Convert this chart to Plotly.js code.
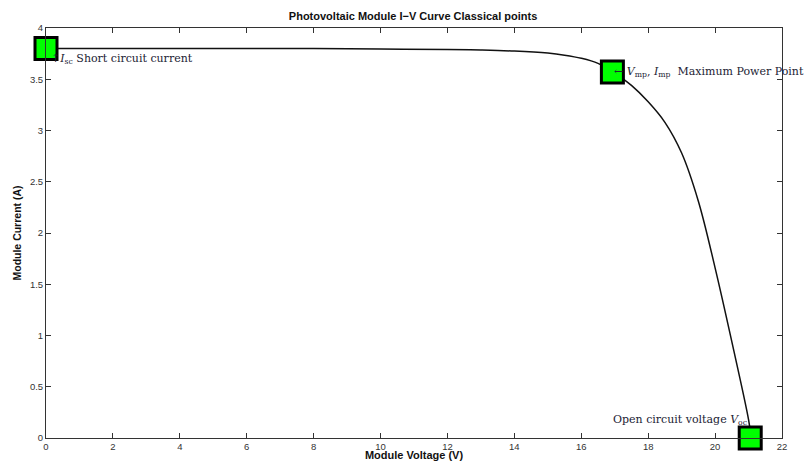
<!DOCTYPE html>
<html><head><meta charset="utf-8">
<script src="https://cdn.plot.ly/plotly-3.0.1.min.js"></script>
<style>body{margin:0;background:#fff}#c{width:810px;height:461px}</style>
</head><body><div id="c"></div>
<script>
// I-V curve readings
var voltage = [0, 2, 4, 6, 8, 10, 12, 13, 14, 15, 15.5, 16, 16.5, 17, 17.5, 18, 18.5, 19, 19.5, 20, 20.5, 21, 21.08];
var current = [3.80, 3.80, 3.80, 3.80, 3.80, 3.795, 3.79, 3.785, 3.775, 3.755, 3.735, 3.705, 3.655, 3.56, 3.44, 3.28, 3.08, 2.78, 2.31, 1.66, 0.94, 0.18, 0.0];
// Classical points: Isc, MPP, Voc
var pointV = [0, 16.93, 21.05];
var pointI = [3.80, 3.57, 0.0];
var xTicks = [0, 2, 4, 6, 8, 10, 12, 14, 16, 18, 20, 22];
var yTicks = [0, 0.5, 1, 1.5, 2, 2.5, 3, 3.5, 4];

var traces = [
  {x: voltage, y: current, type: 'scatter', mode: 'lines',
   line: {color: '#111', width: 1.5, shape: 'spline', smoothing: 1}, hoverinfo: 'skip'},
  {x: pointV, y: pointI, type: 'scatter', mode: 'markers', cliponaxis: false,
   marker: {symbol: 'square', size: 22, color: '#00ff00', line: {color: '#000', width: 3}}}
];

var annFont = {family: 'DejaVu Serif, Liberation Serif, serif', size: 11, color: '#222233'};
var layout = {
  width: 810, height: 461,
  margin: {l: 46, r: 28, t: 28, b: 23},
  paper_bgcolor: '#fff', plot_bgcolor: '#fff',
  showlegend: false,
  title: {text: '<b>Photovoltaic Module I\u2212V Curve Classical points</b>',
          font: {family: 'Arial, Liberation Sans, sans-serif', size: 11, color: '#111'},
          x: 0.51, xanchor: 'center', y: 0.965, yanchor: 'middle'},
  xaxis: {range: [0, 22], tickvals: xTicks, ticktext: xTicks.map(String),
          ticks: 'inside', ticklen: 5, tickcolor: '#333', showgrid: false, zeroline: false,
          showline: true, linecolor: '#333', linewidth: 1, mirror: 'ticks',
          tickfont: {family: 'Arial, sans-serif', size: 9.5, color: '#333'},
          title: {text: '<b>Module Voltage (V)</b>', standoff: 2,
                  font: {family: 'Arial, sans-serif', size: 11, color: '#111'}}},
  yaxis: {range: [0, 4], tickvals: yTicks, ticktext: yTicks.map(String),
          ticks: 'inside', ticklen: 5, tickcolor: '#333', showgrid: false, zeroline: false,
          showline: true, linecolor: '#333', linewidth: 1, mirror: 'ticks',
          tickfont: {family: 'Arial, sans-serif', size: 9.5, color: '#333'},
          title: {text: '<b>Module Current (A)</b>', standoff: 6,
                  font: {family: 'Arial, sans-serif', size: 10.5, color: '#111'}}},
  annotations: [
    {x: 0.1, y: 3.70, xref: 'x', yref: 'y', xanchor: 'left', yanchor: 'middle', showarrow: false,
     text: '\u2191<i>I</i><sub>sc</sub> Short circuit current', font: annFont},
    {x: 16.93, y: 3.57, xref: 'x', yref: 'y', xanchor: 'left', yanchor: 'middle', showarrow: false,
     text: '\u2190\u00a0<i>V</i><sub>mp</sub>, <i>I</i><sub>mp</sub>\u00a0 Maximum Power Point', font: annFont},
    {x: 21.02, y: 0.18, xref: 'x', yref: 'y', xanchor: 'right', yanchor: 'middle', showarrow: false,
     text: 'Open circuit voltage <i>V</i><sub>oc</sub>', font: annFont}
  ]
};
Plotly.newPlot('c', traces, layout, {displayModeBar: false, staticPlot: true});
</script></body></html>
